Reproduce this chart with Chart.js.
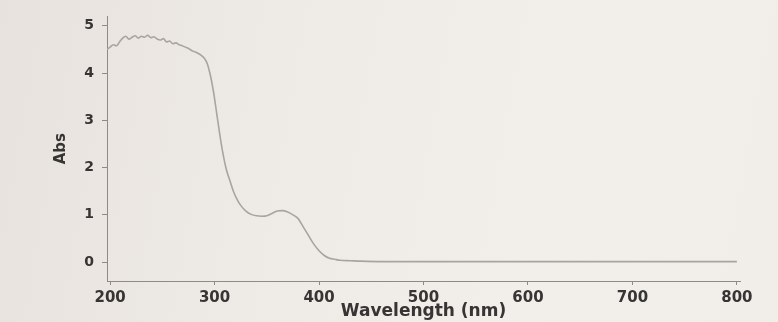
<!DOCTYPE html>
<html>
<head>
<meta charset="utf-8">
<script src="https://cdn.jsdelivr.net/npm/chart.js@4"></script>
<style>
    html, body { margin: 0; padding: 0; }
    body {
        width: 778px;
        height: 322px;
        background: linear-gradient(100deg, #e7e2dd 0%, #eeeae5 35%, #f2efeb 70%, #f1eeea 100%);
        overflow: hidden;
    }
    #wrap { position: relative; width: 778px; height: 322px; }
</style>
</head>
<body>
<div id="wrap"><canvas id="specChart"></canvas></div>
<script>
// wavelength (nm) and absorbance
const wavelengths = [197, 200, 203, 206, 209, 212, 215, 218, 221, 224, 227, 230, 233, 236, 239, 242, 245, 248,
    251, 254, 257, 260, 263, 266, 269, 272, 275, 278, 281, 284, 287, 290, 293, 296, 299, 302, 305, 308, 311,
    315, 318, 321, 325, 330, 335, 340, 345, 350, 355, 360, 365, 370, 375, 380, 385, 390, 395, 400, 405, 410,
    415, 420, 430, 440, 460, 500, 600, 700, 800];
const absorbance = [4.50, 4.55, 4.60, 4.58, 4.66, 4.74, 4.78, 4.72, 4.76, 4.79, 4.74, 4.78, 4.76, 4.80, 4.75, 4.77,
    4.72, 4.70, 4.73, 4.66, 4.68, 4.62, 4.64, 4.60, 4.58, 4.55, 4.52, 4.48, 4.45, 4.42, 4.38, 4.32, 4.20, 3.95,
    3.60, 3.15, 2.70, 2.30, 1.98, 1.70, 1.50, 1.35, 1.20, 1.08, 1.01, 0.98, 0.97, 0.98, 1.03, 1.08, 1.09, 1.06,
    1.00, 0.92, 0.74, 0.56, 0.38, 0.24, 0.14, 0.08, 0.06, 0.04, 0.03, 0.02, 0.01, 0.01, 0.01, 0.01, 0.01];

const xTicks = [200, 300, 400, 500, 600, 700, 800];
const yTicks = [0, 1, 2, 3, 4, 5];

const textColor = '#363534';
const axisColor = '#8d8a87';

const points = wavelengths.map((w, i) => ({ x: w, y: absorbance[i] }));

new Chart(document.getElementById('specChart'), {
    type: 'line',
    data: {
        datasets: [{
            data: points,
            borderColor: '#a8a4a0',
            borderWidth: 1.6,
            pointRadius: 0,
            cubicInterpolationMode: 'monotone',
            fill: false
        }]
    },
    options: {
        responsive: true,
        maintainAspectRatio: false,
        animation: false,
        layout: {
            padding: { left: 48, right: 38, top: 10, bottom: 0 }
        },
        plugins: {
            legend: { display: false },
            tooltip: { enabled: false }
        },
        scales: {
            x: {
                type: 'linear',
                min: 197,
                max: 803,
                afterBuildTicks: scale => { scale.ticks = xTicks.map(v => ({ value: v })); },
                afterFit: scale => { scale.height = 41; },
                border: { display: true, color: axisColor, width: 1 },
                grid: { drawOnChartArea: false, drawTicks: true, tickLength: 4, color: axisColor },
                ticks: {
                    color: textColor,
                    padding: 4,
                    maxRotation: 0,
                    font: { family: 'DejaVu Sans', weight: 'bold', size: 15 }
                },
                title: {
                    display: true,
                    text: 'Wavelength (nm)',
                    color: textColor,
                    padding: { top: 0, bottom: 0 },
                    font: { family: 'DejaVu Sans', weight: 'bold', size: 17 }
                }
            },
            y: {
                min: -0.4,
                max: 5.2,
                afterBuildTicks: scale => { scale.ticks = yTicks.map(v => ({ value: v })); },
                afterFit: scale => { scale.width = 59; },
                border: { display: true, color: axisColor, width: 1 },
                grid: { drawOnChartArea: false, drawTicks: true, tickLength: 5, color: axisColor },
                ticks: {
                    color: textColor,
                    padding: 8,
                    font: { family: 'DejaVu Sans', weight: 'bold', size: 14 }
                },
                title: {
                    display: true,
                    text: 'Abs',
                    color: textColor,
                    padding: { top: 4, bottom: 4 },
                    font: { family: 'DejaVu Sans', weight: 'bold', size: 15 }
                }
            }
        }
    }
});
</script>
</body>
</html>
